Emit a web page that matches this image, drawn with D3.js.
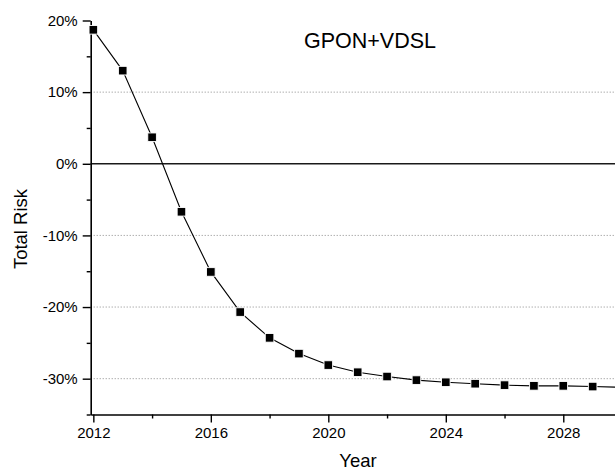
<!DOCTYPE html>
<html>
<head>
<meta charset="utf-8">
<script src="https://cdn.jsdelivr.net/npm/d3@7"></script>
<style>
  html, body { margin: 0; padding: 0; background: #fff; }
  svg { display: block; font-family: "Liberation Sans", Arial, sans-serif; }
</style>
</head>
<body>
<svg id="chart" width="615" height="472"></svg>
<script>
// Total risk of the GPON+VDSL rollout by year (percent)
const years     = [2012, 2013, 2014, 2015, 2016, 2017, 2018, 2019, 2020, 2021,
                   2022, 2023, 2024, 2025, 2026, 2027, 2028, 2029, 2030];
const totalRisk = [18.7, 13.0, 3.7, -6.7, -15.1, -20.7, -24.3, -26.5, -28.1, -29.1,
                   -29.7, -30.2, -30.5, -30.7, -30.9, -31.0, -31.0, -31.1, -31.2];

const xMajorTicks = [2012, 2016, 2020, 2024, 2028];
const xMinorTicks = [2014, 2018, 2022, 2026];
const yMajorTicks = [-30, -20, -10, 0, 10, 20];
const yMinorTicks = [-35, -25, -15, -5, 5, 15];
const gridLevels  = [-30, -20, -10, 10];

const chartTitle = "GPON+VDSL";
const xTitle = "Year";
const yTitle = "Total Risk";

const svg = d3.select("#chart");

const x = d3.scaleLinear().domain([2011.91, 2030.2]).range([90.7, 627.9]);
const y = d3.scaleLinear().domain([-35, 20]).range([414.5, 20.5]);

// dotted horizontal grid
svg.append("g")
  .selectAll("line")
  .data(gridLevels)
  .join("line")
  .attr("x1", x.range()[0]).attr("x2", 615)
  .attr("y1", d => y(d)).attr("y2", d => y(d))
  .attr("stroke", "#8a8a8a")
  .attr("stroke-width", 1)
  .attr("stroke-dasharray", "1,2");

// zero reference line
svg.append("line")
  .attr("x1", x.range()[0]).attr("x2", 615)
  .attr("y1", y(0)).attr("y2", y(0))
  .attr("stroke", "#1a1a1a")
  .attr("stroke-width", 1.6);

function styleAxis(g) {
  g.select(".domain").attr("stroke", "#000").attr("stroke-width", 1.6);
  g.selectAll(".tick line").attr("stroke", "#000").attr("stroke-width", 1.4);
  g.selectAll(".tick text")
    .attr("fill", "#000")
    .style("font-size", "15px")
    .style("font-family", "'Liberation Sans', Arial, sans-serif");
}

// x axis: major and minor ticks
svg.append("g")
  .attr("transform", `translate(0,${y(-35)})`)
  .call(d3.axisBottom(x).tickValues(xMajorTicks).tickFormat(d3.format("d"))
        .tickSize(8).tickSizeOuter(0).tickPadding(5))
  .call(styleAxis);
svg.append("g")
  .attr("transform", `translate(0,${y(-35)})`)
  .call(d3.axisBottom(x).tickValues(xMinorTicks).tickFormat("").tickSize(4).tickSizeOuter(0))
  .call(g => g.select(".domain").remove())
  .call(styleAxis);

// y axis: major and minor ticks
svg.append("g")
  .attr("transform", `translate(${x.range()[0]},0)`)
  .call(d3.axisLeft(y).tickValues(yMajorTicks).tickFormat(d => d + "%")
        .tickSize(8).tickSizeOuter(0).tickPadding(5))
  .call(styleAxis);
svg.append("g")
  .attr("transform", `translate(${x.range()[0]},0)`)
  .call(d3.axisLeft(y).tickValues(yMinorTicks).tickFormat("").tickSize(4).tickSizeOuter(0))
  .call(g => g.select(".domain").remove())
  .call(styleAxis);

// series line (straight segments between yearly points)
const points = years.map((yr, i) => ({ year: yr, value: totalRisk[i] }));
svg.append("path")
  .datum(points)
  .attr("fill", "none")
  .attr("stroke", "#000")
  .attr("stroke-width", 1.1)
  .attr("d", d3.line().x(d => x(d.year)).y(d => y(d.value)));

// square markers
const m = 8.6;
svg.append("g")
  .selectAll("rect")
  .data(points)
  .join("rect")
  .attr("x", d => x(d.year) - m / 2)
  .attr("y", d => y(d.value) - m / 2)
  .attr("width", m).attr("height", m)
  .attr("fill", "#000")
  .attr("stroke", "#fff")
  .attr("stroke-width", 0.9);

// titles
svg.append("text")
  .attr("x", 370).attr("y", 48)
  .attr("text-anchor", "middle")
  .style("font-size", "21.5px")
  .text(chartTitle);

svg.append("text")
  .attr("x", 358).attr("y", 467)
  .attr("text-anchor", "middle")
  .style("font-size", "18.5px")
  .text(xTitle);

svg.append("text")
  .attr("transform", "translate(27,229) rotate(-90)")
  .attr("text-anchor", "middle")
  .style("font-size", "18.5px")
  .text(yTitle);
</script>
</body>
</html>
